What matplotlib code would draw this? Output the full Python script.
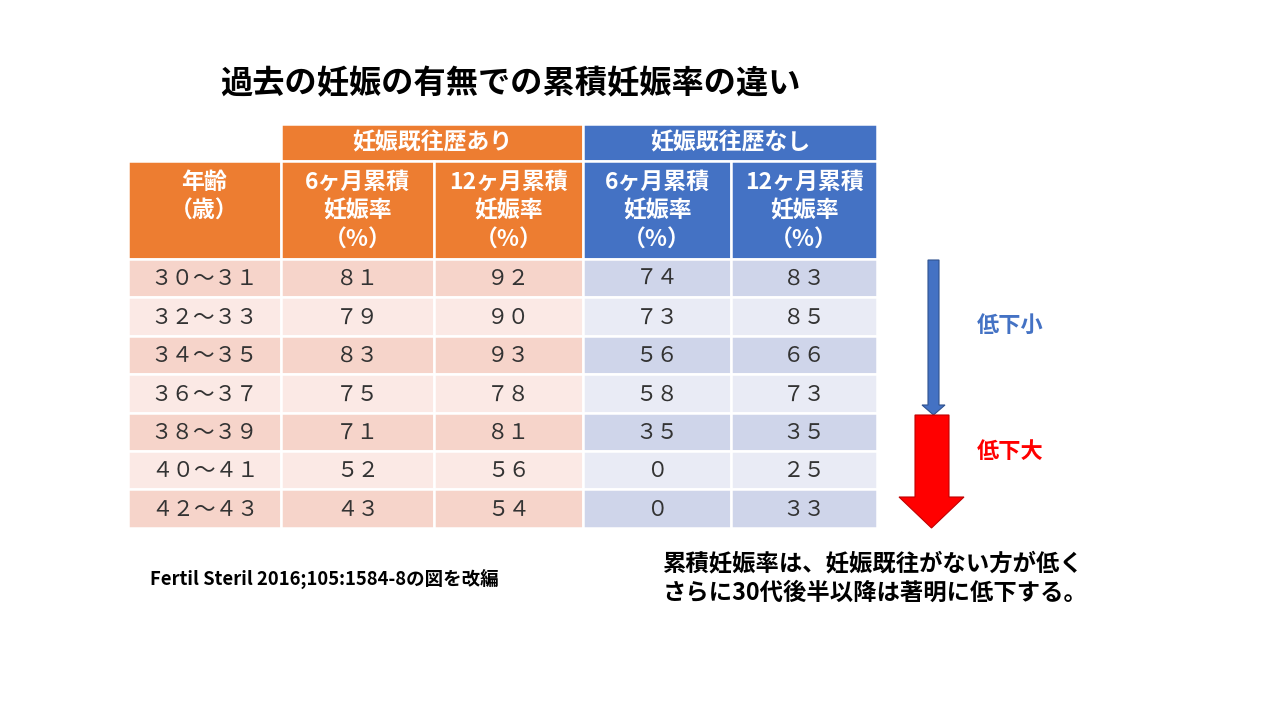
import matplotlib
matplotlib.use("Agg")
import matplotlib.pyplot as plt
from matplotlib.patches import Rectangle, Polygon

plt.rcParams['font.family'] = ['Noto Sans CJK JP', 'DejaVu Sans']

# ---- data ----
title = "過去の妊娠の有無での累積妊娠率の違い"
group_labels = ["妊娠既往歴あり", "妊娠既往歴なし"]
col_headers = ["年齢\n（歳）", "6ヶ月累積\n妊娠率\n（%）", "12ヶ月累積\n妊娠率\n（%）",
               "6ヶ月累積\n妊娠率\n（%）", "12ヶ月累積\n妊娠率\n（%）"]
ages = ["３０～３１", "３２～３３", "３４～３５", "３６～３７", "３８～３９", "４０～４１", "４２～４３"]
prev_6m = [81, 79, 83, 75, 71, 52, 43]
prev_12m = [92, 90, 93, 78, 81, 56, 54]
none_6m = [74, 73, 56, 58, 35, 0, 0]
none_12m = [83, 85, 66, 73, 35, 25, 33]
label_small = "低下小"
label_large = "低下大"
citation = "Fertil Steril 2016;105:1584-8の図を改編"
conclusion = "累積妊娠率は、妊娠既往がない方が低く\nさらに30代後半以降は著明に低下する。"

# ---- styles ----
ORANGE = "#ED7D31"
BLUE = "#4472C4"
PINK1, PINK2 = "#F6D4CA", "#FBE9E5"
LBLUE1, LBLUE2 = "#CFD5EA", "#E9EBF5"
TXT = "#333333"

fw = str.maketrans("0123456789", "０１２３４５６７８９")
def fullwidth(v):
    return str(v).translate(fw)

fig = plt.figure(figsize=(12.8, 7.2), dpi=100)
ax = fig.add_axes([0, 0, 1, 1])
ax.set_xlim(0, 1280)
ax.set_ylim(720, 0)
ax.axis('off')

ax.text(510, 84, title, ha='center', va='center', fontsize=23.2, fontweight='bold', color='black')

col_edges = [128, 281, 434, 583, 731, 877]
h1_top, h1_bot = 124, 161
h2_top, h2_bot = 161, 259
row_top = 259
row_h = 38.4

def cell(x0, x1, y0, y1, color):
    ax.add_patch(Rectangle((x0, y0), x1 - x0, y1 - y0, facecolor=color,
                           edgecolor='white', linewidth=1.8))

# group header
groups = [(col_edges[1], col_edges[3], ORANGE), (col_edges[3], col_edges[5], BLUE)]
for (x0, x1, c), lab in zip(groups, group_labels):
    cell(x0, x1, h1_top, h1_bot, c)
    ax.text((x0 + x1) / 2, (h1_top + h1_bot) / 2, lab, ha='center', va='center',
            fontsize=16.5, fontweight='bold', color='white')

# column headers
hdr_colors = [ORANGE, ORANGE, ORANGE, BLUE, BLUE]
for i, (lab, c) in enumerate(zip(col_headers, hdr_colors)):
    x0, x1 = col_edges[i], col_edges[i + 1]
    cell(x0, x1, h2_top, h2_bot, c)
    ytop = 182
    for k, line in enumerate(lab.split("\n")):
        ax.text((x0 + x1) / 2, ytop + k * 29, line, ha='center', va='center',
                fontsize=16.5, fontweight='bold', color='white')

# body
columns = [ages, [fullwidth(v) for v in prev_6m], [fullwidth(v) for v in prev_12m],
           [fullwidth(v) for v in none_6m], [fullwidth(v) for v in none_12m]]
for r in range(len(ages)):
    y0 = row_top + r * row_h
    y1 = y0 + row_h
    for ci in range(5):
        x0, x1 = col_edges[ci], col_edges[ci + 1]
        if ci < 3:
            color = PINK1 if r % 2 == 0 else PINK2
        else:
            color = LBLUE1 if r % 2 == 0 else LBLUE2
        cell(x0, x1, y0, y1, color)
        ax.text((x0 + x1) / 2, (y0 + y1) / 2 + 1, columns[ci][r], ha='center', va='center',
                fontsize=15.5, color=TXT)

# arrows
ax.add_patch(Polygon([(928, 260), (939, 260), (939, 405), (945, 405), (933.5, 415),
                      (922, 405), (928, 405)], closed=True, facecolor=BLUE,
                     edgecolor='#2F528F', linewidth=0.8))
ax.add_patch(Polygon([(915, 415), (949, 415), (949, 497), (964, 497), (931.5, 528),
                      (899, 497), (915, 497)], closed=True, facecolor='#FF0000',
                     edgecolor='#C00000', linewidth=0.8))
ax.text(1010, 325, label_small, ha='center', va='center', fontsize=16,
        fontweight='bold', color=BLUE)
ax.text(1010, 451, label_large, ha='center', va='center', fontsize=16,
        fontweight='bold', color='#FF0000')

ax.text(150, 579, citation, ha='left', va='center', fontsize=13.3, fontweight='bold', color='black')
ax.text(663, 578, conclusion, ha='left', va='center', fontsize=16.8, fontweight='bold',
        color='black', linespacing=1.3)

fig.savefig("out.png", dpi=100, facecolor='white')
